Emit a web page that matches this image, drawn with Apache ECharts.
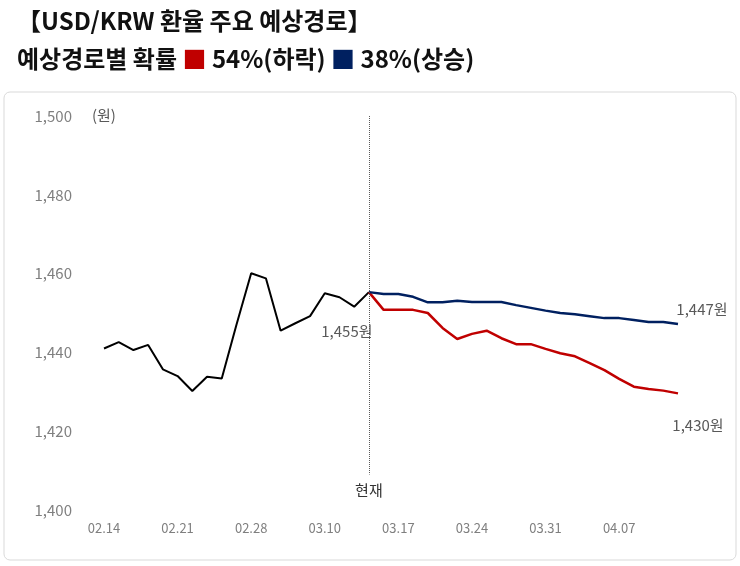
<!DOCTYPE html><html><head><meta charset="utf-8">
<script src="https://cdn.jsdelivr.net/npm/echarts@6/dist/echarts.min.js"></script>
<style>body{margin:0}#c{width:740px;height:566px}</style></head><body><div id="c"></div><script>
const xLabels=['02.14','02.21','02.28','03.10','03.17','03.24','03.31','04.07'];
const history=[1441.0,1442.6,1440.6,1441.9,1435.7,1434.0,1430.2,1433.8,1433.4,1447,1460.1,1458.8,1445.5,1447.4,1449.2,1455.0,1454.0,1451.6,1455.3];
const down=[1455.3,1450.8,1450.8,1450.8,1450.0,1446.2,1443.4,1444.7,1445.5,1443.6,1442.1,1442.1,1440.9,1439.8,1439.0,1437.3,1435.5,1433.3,1431.3,1430.7,1430.3,1429.6];
const up=[1455.3,1454.8,1454.8,1454.1,1452.7,1452.7,1453.1,1452.8,1452.8,1452.8,1452.0,1451.3,1450.6,1450.0,1449.7,1449.2,1448.7,1448.7,1448.2,1447.7,1447.7,1447.2];
const yTicks=[1400,1420,1440,1460,1480,1500];
const N=history.length+down.length-1;
const cats=Array.from({length:N},(_,i)=>String(i));
const pad=n=>Array(n).fill(null);
const font='"Noto Sans CJK KR","Noto Sans",sans-serif';
const ch=echarts.init(document.getElementById('c'));
const lastLbl=(arr,txt,off)=>arr.map((v,i)=>i===arr.length-1?{value:v,label:{show:true,formatter:txt,position:'top',offset:off,color:'#595959',fontSize:15,fontFamily:font}}:v);
const cur=history.length-1;
ch.setOption({
 animation:false,textStyle:{fontFamily:font},
 title:{left:12,top:4,text:'【USD/KRW 환율 주요 예상경로】',textStyle:{fontSize:24,fontWeight:'bold',color:'#111'},
  subtext:'{a|예상경로별 확률 }{r|■}{a| 54%(하락) }{b|■}{a| 38%(상승)}',itemGap:14,
  subtextStyle:{rich:{a:{fontSize:24,fontWeight:'bold',color:'#111'},r:{fontSize:24,color:'#C00000'},b:{fontSize:24,color:'#002060'}}}},
 graphic:[{type:'rect',shape:{x:4,y:92,width:732,height:468,r:6},style:{fill:'none',stroke:'#d9d9d9',lineWidth:1}},
  {type:'text',left:92,top:108,style:{text:'(원)',fontSize:15,fill:'#595959',fontFamily:font}}],
 grid:{left:104,right:62,top:116,bottom:56},
 xAxis:{type:'category',data:cats,boundaryGap:false,axisLine:{show:false},axisTick:{show:false},
  axisLabel:{interval:0,margin:12,color:'#7f7f7f',fontSize:13,formatter:(v,i)=>i%5===0?(xLabels[i/5]||''):''}},
 yAxis:{type:'value',min:yTicks[0],max:yTicks[yTicks.length-1],interval:20,splitLine:{show:false},
  axisLabel:{margin:32,color:'#7f7f7f',fontSize:15,formatter:v=>v.toLocaleString('en-US')}},
 series:[
  {type:'line',data:lastLbl(history,'1,455원',[-22,52]),symbol:'circle',symbolSize:0,showSymbol:true,lineStyle:{color:'#000',width:2},itemStyle:{color:'#000'},z:3,
   markLine:{symbol:'none',silent:true,data:[[{coord:[String(cur),1500]},{coord:[String(cur),1409]}]],lineStyle:{type:'dotted',color:'#595959',width:1},
    label:{position:'end',formatter:'현재',color:'#333',fontSize:15,distance:8}}},
  {type:'line',data:pad(cur).concat(lastLbl(down,'1,430원',[20,44])),symbol:'circle',symbolSize:0,showSymbol:true,itemStyle:{color:'#C00000'},lineStyle:{color:'#C00000',width:2.5}},
  {type:'line',data:pad(cur).concat(lastLbl(up,'1,447원',[24,-2])),symbol:'circle',symbolSize:0,showSymbol:true,itemStyle:{color:'#002060'},lineStyle:{color:'#002060',width:2.5}}
 ]});
</script></body></html>
